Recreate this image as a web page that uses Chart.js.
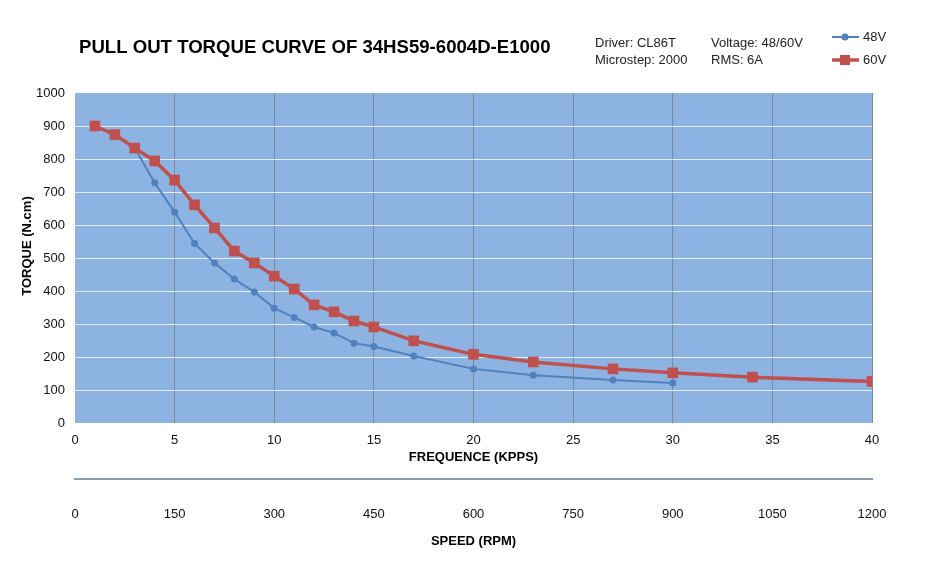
<!DOCTYPE html>
<html>
<head>
<meta charset="utf-8">
<script src="https://cdn.jsdelivr.net/npm/chart.js@4/dist/chart.umd.min.js"></script>
<style>
html,body{margin:0;padding:0;background:#fff;}
#wrap{width:937px;height:576px;position:relative;}
</style>
</head>
<body>
<div id="wrap"><canvas id="c" width="937" height="576"></canvas></div>
<script>
// ---- data ----
const freq48 = [1, 2, 3, 4, 5, 6, 7, 8, 9, 10, 11, 12, 13, 14, 15, 17, 20, 23, 27, 30];
const torque48 = [900, 873, 833, 728, 639, 544, 485, 436, 397, 348, 320, 291, 273, 242, 232, 203, 164, 145, 130, 121];
const freq60 = [1, 2, 3, 4, 5, 6, 7, 8, 9, 10, 11, 12, 13, 14, 15, 17, 20, 23, 27, 30, 34, 40];
const torque60 = [900, 874, 833, 794, 736, 661, 591, 521, 485, 445, 406, 358, 337, 309, 291, 249, 208, 185, 164, 152, 139, 126];
const freqTicks = [0, 5, 10, 15, 20, 25, 30, 35, 40];
const speedTicks = [0, 150, 300, 450, 600, 750, 900, 1050, 1200];
const torqueTicks = [0, 100, 200, 300, 400, 500, 600, 700, 800, 900, 1000];
const seriesNames = ['48V', '60V'];
const titleText = 'PULL OUT TORQUE CURVE OF 34HS59-6004D-E1000';
const infoCol1 = ['Driver: CL86T', 'Microstep: 2000'];
const infoCol2 = ['Voltage: 48/60V', 'RMS: 6A'];
const xTitle = 'FREQUENCE (KPPS)';
const x2Title = 'SPEED (RPM)';
const yTitle = 'TORQUE (N.cm)';

const BLUE = '#4f81bd';
const RED = '#c0504d';
const FONT = '"Liberation Sans", Arial, sans-serif';

const pts = (xs, ys) => xs.map((x, i) => ({x: x, y: ys[i]}));
const plain = v => String(v);

const zeroPad = s => { s.paddingLeft = 0; s.paddingRight = 0; s.paddingTop = 0; s.paddingBottom = 0; };

const decor = {
  id: 'decor',
  beforeDraw(chart) {
    const {ctx, chartArea: a} = chart;
    ctx.save();
    ctx.fillStyle = '#8db3e2';
    ctx.fillRect(a.left, a.top, a.right - a.left, a.bottom - a.top);
    ctx.restore();
  },
  afterDraw(chart) {
    const {ctx, chartArea: a} = chart;
    ctx.save();
    ctx.fillStyle = '#000';
    ctx.textBaseline = 'middle';
    ctx.textAlign = 'left';
    ctx.font = 'bold 18.6px ' + FONT;
    ctx.fillText(titleText, 79, 48);
    ctx.font = '13px ' + FONT;
    ctx.fillStyle = '#222';
    ctx.fillText(infoCol1[0], 595, 43);
    ctx.fillText(infoCol1[1], 595, 60);
    ctx.fillText(infoCol2[0], 711, 43);
    ctx.fillText(infoCol2[1], 711, 60);
    // legend
    const items = [
      {name: seriesNames[0], color: BLUE, y: 37, lw: 2, square: false},
      {name: seriesNames[1], color: RED, y: 60, lw: 3.5, square: true}
    ];
    items.forEach(it => {
      ctx.strokeStyle = it.color;
      ctx.lineWidth = it.lw;
      ctx.beginPath();
      ctx.moveTo(832, it.y);
      ctx.lineTo(859, it.y);
      ctx.stroke();
      ctx.fillStyle = it.color;
      if (it.square) {
        ctx.fillRect(845 - 5, it.y - 5, 10, 10);
      } else {
        ctx.beginPath();
        ctx.arc(845, it.y, 3.5, 0, Math.PI * 2);
        ctx.fill();
      }
      ctx.fillStyle = '#222';
      ctx.font = '13px ' + FONT;
      ctx.fillText(it.name, 863, it.y);
    });
    // y title
    ctx.save();
    ctx.translate(27, 246);
    ctx.rotate(-Math.PI / 2);
    ctx.textAlign = 'center';
    ctx.font = 'bold 13px ' + FONT;
    ctx.fillStyle = '#000';
    ctx.fillText(yTitle, 0, 0);
    ctx.restore();
    // right border of plot
    ctx.strokeStyle = '#808890';
    ctx.lineWidth = 1;
    ctx.beginPath();
    ctx.moveTo(a.right + 0.5, a.top);
    ctx.lineTo(a.right + 0.5, a.bottom);
    ctx.stroke();
    ctx.restore();
  }
};

new Chart(document.getElementById('c'), {
  type: 'scatter',
  data: {
    datasets: [
      {
        label: seriesNames[0],
        data: pts(freq48, torque48),
        showLine: true,
        borderColor: BLUE,
        backgroundColor: BLUE,
        borderWidth: 2,
        pointRadius: 3.5,
        pointHoverRadius: 3.5,
        pointStyle: 'circle',
        pointBorderWidth: 0,
        order: 1,
        xAxisID: 'x',
        yAxisID: 'y'
      },
      {
        label: seriesNames[1],
        data: pts(freq60, torque60),
        showLine: true,
        borderColor: RED,
        backgroundColor: RED,
        borderWidth: 3.5,
        pointRadius: 7.5,
        pointHoverRadius: 7.5,
        pointStyle: 'rect',
        pointBorderWidth: 0,
        order: 0,
        xAxisID: 'x',
        yAxisID: 'y'
      }
    ]
  },
  options: {
    responsive: false,
    animation: false,
    devicePixelRatio: 1,
    layout: {padding: {top: 93, right: 65, left: 0, bottom: 0}},
    plugins: {
      legend: {display: false},
      tooltip: {enabled: false},
      title: {display: false}
    },
    scales: {
      x: {
        type: 'linear',
        position: 'bottom',
        min: 0, max: 40,
        afterBuildTicks: s => { s.ticks = freqTicks.map(v => ({value: v})); },
        afterFit: s => { zeroPad(s); s.height = 56; },
        grid: {
          color: c => (c.tick && c.tick.value === 0) ? 'rgba(0,0,0,0)' : '#7d8894',
          lineWidth: 1,
          drawTicks: false
        },
        border: {display: false},
        ticks: {padding: 10, color: '#111', font: {family: FONT, size: 13}, maxRotation: 0, callback: plain},
        title: {display: true, text: xTitle, color: '#000', font: {family: FONT, size: 13, weight: 'bold'}, padding: {top: 0, bottom: 14}}
      },
      x2: {
        type: 'linear',
        position: 'bottom',
        min: 0, max: 1200,
        afterBuildTicks: s => { s.ticks = speedTicks.map(v => ({value: v})); },
        afterFit: s => { zeroPad(s); s.height = 97; },
        grid: {display: false, drawTicks: false},
        border: {display: true, color: '#8a9db0', width: 2},
        ticks: {padding: 28, color: '#111', font: {family: FONT, size: 13}, maxRotation: 0, callback: plain},
        title: {display: true, text: x2Title, color: '#000', font: {family: FONT, size: 13, weight: 'bold'}, padding: {top: 0, bottom: 27}}
      },
      y: {
        type: 'linear',
        position: 'left',
        min: 0, max: 1000,
        afterBuildTicks: s => { s.ticks = torqueTicks.map(v => ({value: v})); },
        afterFit: s => { zeroPad(s); s.width = 75; },
        grid: {
          color: c => (c.tick && (c.tick.value === 0 || c.tick.value === 1000)) ? 'rgba(0,0,0,0)' : '#e4ecf7',
          lineWidth: 1,
          drawTicks: false
        },
        border: {display: false},
        ticks: {padding: 10, color: '#111', font: {family: FONT, size: 13}, callback: plain},
        title: {display: false}
      }
    }
  },
  plugins: [decor]
});
</script>
</body>
</html>
